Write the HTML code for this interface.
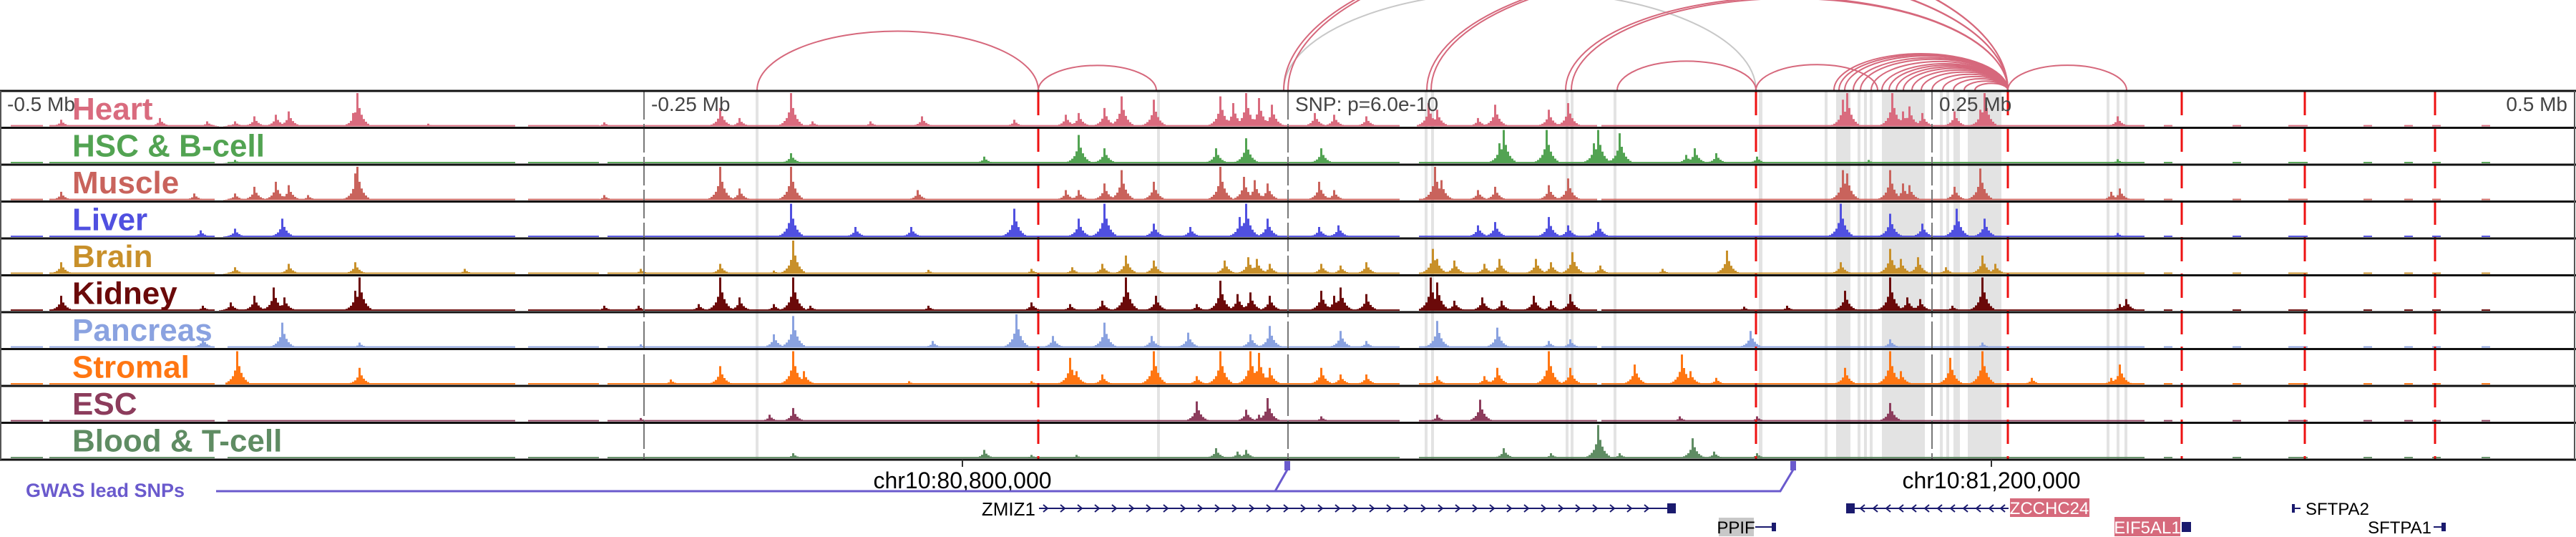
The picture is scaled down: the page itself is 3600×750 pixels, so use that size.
<!DOCTYPE html>
<html><head><meta charset="utf-8">
<style>
html,body{margin:0;padding:0;background:#fff;}
svg{display:block;font-family:"Liberation Sans","DejaVu Sans",sans-serif;}
</style></head>
<body>
<svg id="chart" width="3600" height="750" viewBox="0 0 3600 750" xmlns="http://www.w3.org/2000/svg">
<g id="bands"></g>
<g id="arcs"></g>
<g id="tracks"></g>
<g id="vlines"></g>
<g id="labels"></g>
<g id="bottom"></g>
</svg>
<script>
// ---- data (positions in 278-bp bins across the 1-Mb window, 0..3600) ----
const trackNames = ["Heart","HSC & B-cell","Muscle","Liver","Brain","Kidney","Pancreas","Stromal","ESC","Blood & T-cell"];
const trackColors = ["#d96b7e","#52a352","#c9635c","#5050e0","#c8902a","#6b0a0a","#8aa2e0","#ff7612","#8c3c5c","#5f8c63"];
const heartPeaks = [[83,0.2],[223,0.25],[287,0.15],[327,0.15],[353,0.3],[383,0.35],[402,0.45],[493,0.4],[498,1.0],[597,0.08],[842,0.12],[1005,0.55],[1033,0.25],[1105,1.0],[1134,0.15],[1215,0.15],[1287,0.3],[1416,0.2],[1489,0.35],[1507,0.4],[1541,0.55],[1567,0.9],[1610,0.8],[1704,0.9],[1721,0.7],[1739,1.0],[1758,0.85],[1775,0.65],[1837,0.4],[1864,0.35],[1909,0.3],[1994,0.7],[2007,0.5],[2065,0.25],[2087,0.65],[2163,0.5],[2190,0.7],[2574,0.8],[2579,1.0],[2642,1.0],[2659,0.45],[2668,0.6],[2686,0.4],[2731,0.45],[2766,0.5],[2771,1.0],[2959,0.3]];
const hscPeaks = [[327,0.1],[1105,0.3],[1373,0.2],[1507,0.85],[1541,0.45],[1699,0.45],[1739,0.75],[1846,0.45],[2095,0.6],[2099,1.0],[2161,1.0],[2226,0.6],[2232,1.0],[2262,0.9],[2355,0.25],[2366,0.45],[2396,0.3],[2454,0.2],[2611,0.1],[2957,0.12]];
const musclePeaks = [[83,0.25],[270,0.2],[327,0.2],[354,0.4],[383,0.55],[402,0.45],[428,0.15],[494,0.8],[498,1.0],[842,0.15],[1005,1.0],[1033,0.35],[1105,1.0],[1282,0.3],[1489,0.3],[1507,0.3],[1541,0.5],[1567,0.9],[1612,0.55],[1704,1.0],[1737,0.7],[1753,0.6],[1770,0.5],[1842,0.55],[1864,0.3],[2003,1.0],[2012,0.6],[2065,0.3],[2089,0.4],[2163,0.45],[2191,0.65],[2574,0.9],[2579,0.8],[2641,0.9],[2659,0.5],[2668,0.45],[2731,0.4],[2766,0.95],[2949,0.25],[2960,0.35]];
const liverPeaks = [[278,0.2],[328,0.25],[392,0.55],[1105,1.0],[1194,0.3],[1273,0.3],[1416,0.85],[1507,0.55],[1541,1.0],[1610,0.4],[1663,0.3],[1732,0.6],[1739,1.0],[1770,0.55],[1842,0.3],[1869,0.35],[2065,0.35],[2089,0.45],[2163,0.6],[2190,0.35],[2232,0.45],[2571,1.0],[2641,0.7],[2686,0.4],[2733,0.85],[2771,0.55],[2959,0.12]];
const brainPeaks = [[83,0.35],[327,0.2],[402,0.3],[494,0.35],[649,0.15],[895,0.15],[1005,0.3],[1079,0.1],[1106,1.0],[1297,0.12],[1441,0.15],[1498,0.2],[1538,0.3],[1571,0.55],[1611,0.4],[1711,0.4],[1742,0.5],[1754,0.45],[1774,0.3],[1846,0.3],[1871,0.25],[1907,0.35],[2001,0.75],[2007,0.45],[2030,0.4],[2072,0.3],[2093,0.45],[2144,0.45],[2167,0.35],[2196,0.65],[2234,0.25],[2322,0.15],[2412,0.7],[2571,0.35],[2641,0.75],[2655,0.45],[2678,0.5],[2718,0.2],[2770,0.55],[2787,0.3]];
const kidneyPeaks = [[83,0.45],[281,0.15],[321,0.25],[354,0.45],[382,0.7],[396,0.4],[496,0.6],[501,1.0],[844,0.15],[890,0.15],[976,0.2],[1005,1.0],[1033,0.4],[1079,0.2],[1106,1.0],[1131,0.15],[1297,0.15],[1441,0.25],[1493,0.2],[1538,0.3],[1571,1.0],[1613,0.45],[1671,0.2],[1705,0.9],[1728,0.5],[1745,0.55],[1774,0.45],[1844,0.6],[1863,0.45],[1872,0.7],[1907,0.5],[1997,1.0],[2007,0.85],[2030,0.3],[2070,0.4],[2096,0.3],[2142,0.45],[2167,0.3],[2194,0.5],[2437,0.12],[2495,0.15],[2578,0.6],[2641,1.0],[2663,0.4],[2682,0.35],[2728,0.15],[2770,1.0],[2960,0.2],[2971,0.35]];
const pancreasPeaks = [[281,0.3],[394,0.75],[501,0.15],[895,0.1],[1079,0.4],[1106,0.95],[1303,0.2],[1418,1.0],[1470,0.35],[1541,0.75],[1607,0.35],[1659,0.45],[1745,0.4],[1774,0.65],[1871,0.5],[1907,0.2],[2007,0.8],[2090,0.6],[2162,0.2],[2193,0.25],[2445,0.5],[2641,0.25],[2770,0.15]];
const stromalPeaks = [[330,1.0],[501,0.5],[936,0.15],[1005,0.55],[1106,1.0],[1123,0.4],[1269,0.1],[1441,0.1],[1493,0.8],[1504,0.4],[1538,0.3],[1611,1.0],[1671,0.25],[1705,1.0],[1745,1.0],[1757,0.95],[1774,0.5],[1846,0.5],[1871,0.3],[1907,0.3],[2007,0.25],[2073,0.25],[2090,0.5],[2164,1.0],[2194,0.5],[2282,0.6],[2348,0.9],[2360,0.4],[2397,0.2],[2578,0.5],[2641,1.0],[2655,0.4],[2724,0.8],[2770,1.0],[2839,0.2],[2948,0.2],[2960,0.6]];
const escPeaks = [[895,0.1],[1073,0.2],[1106,0.4],[1671,0.6],[1739,0.35],[1757,0.2],[1771,0.7],[1846,0.15],[2007,0.2],[2067,0.65],[2346,0.15],[2454,0.15],[2641,0.55]];
const bloodPeaks = [[1106,0.15],[1375,0.25],[1441,0.1],[1504,0.1],[1697,0.3],[1728,0.2],[1739,0.25],[2099,0.3],[2165,0.15],[2232,1.0],[2262,0.15],[2365,0.6],[2395,0.2],[2454,0.15]];
const allPeaks = [heartPeaks,hscPeaks,musclePeaks,liverPeaks,brainPeaks,kidneyPeaks,pancreasPeaks,stromalPeaks,escPeaks,bloodPeaks];
const coverage = [[15,60],[70,300],[320,720],[740,835],[850,1955],[1985,2230],[2240,2995],[3025,3035],[3120,3130],[3200,3225],[3305,3315],[3360,3372],[3400,3410],[3470,3478]];
const grayBands = [[1056,1060],[1617,1621],[1991,1995],[2000,2004],[2188,2192],[2195,2199],[2255,2259],[2458,2463],[2550,2554],[2566,2586],[2596,2600],[2605,2609],[2613,2617],[2630,2690],[2711,2715],[2720,2724],[2730,2739],[2750,2797],[2944,2948],[2958,2962],[2969,2973]];
const axisTicks = [0,900,1800,2700,3600];
const axisTickLabels = ["-0.5 Mb","-0.25 Mb","SNP: p=6.0e-10","0.25 Mb","0.5 Mb"];
const redMarkers = [1451,2454,2806,3049,3221,3403];
const arcAnchors = [[1058,1451],[1451,1616],[1794,2454],[1794,2806],[1800,2806],[1994,2806],[2000,2806],[2188,2806],[2196,2806],[2260,2454],[2454,2624],[2563,2806],[2570,2806],[2578,2806],[2590,2806],[2600,2806],[2615,2806],[2630,2806],[2640,2806],[2650,2806],[2660,2806],[2672,2806],[2685,2806],[2700,2806],[2715,2806],[2730,2806],[2745,2806],[2760,2806],[2806,2972]];
const arcGray = [2];
const coordTicks = [1345,2783];
const coordLabels = ["chr10:80,800,000","chr10:81,200,000"];

// ---- scales ----
const W = 3600, TOP = 127, TH = 51.5;
const x = b => b * W / 3600;
const trackTop = i => TOP + i * TH;
const yVal = (i, v) => trackTop(i) + TH - 2 - v * (TH - 5);
const NS = "http://www.w3.org/2000/svg";
function mk(tag, attrs, parent){ const e=document.createElementNS(NS,tag); for(const k in attrs) e.setAttribute(k,attrs[k]); parent.appendChild(e); return e; }

// bands
const gB = document.getElementById('bands');
grayBands.forEach(b=>{
  const r = mk('rect',{x:x(b[0]),y:TOP,width:x(b[1])-x(b[0]),height:TH*10,fill:'#e3e3e3'},gB);
  
  
});

// arcs
const gA = document.getElementById('arcs');
arcAnchors.forEach((a,i)=>{
  const x1=x(a[0]), x2=x(a[1]); const rx=(x2-x1)/2; const ry=rx*0.42;
  const p = mk('path',{d:`M${x1},${TOP-1} A${rx},${ry} 0 0 1 ${x2},${TOP-1}`,fill:'none',stroke:arcGray.includes(i)?'#c8c8c8':'#d6687c','stroke-width':2},gA);
  
  
});

// tracks
const gT = document.getElementById('tracks');
const kernel=[0.06,0.1,0.16,0.25,0.42,1,0.55,0.35,0.22,0.14,0.08];
const KH=5;
const BIN=3;
allPeaks.forEach((peaks,i)=>{
  const g = mk('g',{fill:trackColors[i]},gT);
  
  
  const vals = new Float32Array(Math.ceil(3600/BIN));
  coverage.forEach(c=>{ for(let b=Math.floor(c[0]/BIN);b<Math.ceil(c[1]/BIN);b++) vals[b]=Math.max(vals[b],0.04); });
  peaks.forEach(p=>{ const c=Math.round(p[0]/BIN); kernel.forEach((k,j)=>{const b=c+j-KH; if(b>=0&&b<vals.length) vals[b]=Math.max(vals[b],p[1]*k);}); });
  let d='';
  for(let b=0;b<vals.length;b++){ if(vals[b]>0){ const y0=yVal(i,vals[b]); const yb=yVal(i,0); d+=`M${x(b*BIN)},${yb}V${y0}H${x(b*BIN)+BIN}V${yb}Z`; } }
  const p=mk('path',{d:d},g);
  
  
});

// vertical markers + borders
const gV = document.getElementById('vlines');
[900,1800,2700].forEach(t=>{
  const l=mk('line',{x1:x(t),x2:x(t),y1:TOP,y2:TOP+TH*10,stroke:'#777','stroke-width':2,'stroke-dasharray':'40 6'},gV);
  
  
});
redMarkers.forEach(t=>{
  const l=mk('line',{x1:x(t),x2:x(t),y1:TOP,y2:TOP+TH*10,stroke:'#ee1111','stroke-width':3,'stroke-dasharray':'34 17'},gV);
  
  
});
for(let i=0;i<=10;i++){
  const l=mk('line',{x1:0,x2:W,y1:trackTop(i),y2:trackTop(i),stroke:'#111','stroke-width':3},gV);
  
  
}
const lb=mk('line',{x1:1,x2:1,y1:TOP,y2:TOP+TH*10,stroke:'#555','stroke-width':2},gV);


const rb=mk('line',{x1:W-2,x2:W-2,y1:TOP,y2:TOP+TH*10,stroke:'#555','stroke-width':2},gV);



// labels
const gL = document.getElementById('labels');
trackNames.forEach((n,i)=>{
  const t=mk('text',{x:101,y:trackTop(i)+40,fill:trackColors[i],'font-size':44,'font-weight':'bold'},gL);
  t.textContent=n;
  
  
});
axisTicks.forEach((t,i)=>{
  const last=i===axisTicks.length-1;
  const tx=mk('text',{x:last?x(t)-12:x(t)+10,y:TOP+28,fill:'#444','font-size':28,'text-anchor':last?'end':'start'},gL);
  tx.textContent=axisTickLabels[i];
  
  
});

// bottom area
const gO = document.getElementById('bottom');
const yAx = TOP+TH*10;
coordTicks.forEach((t,i)=>{
  const l=mk('line',{x1:x(t),x2:x(t),y1:yAx,y2:yAx+10,stroke:'#333','stroke-width':2},gO);
  
  
  const tx=mk('text',{x:x(t),y:yAx+40,'font-size':32,'text-anchor':'middle',fill:'#000'},gO);
  tx.textContent=coordLabels[i];
  
  
});
</script>
<svg style="position:absolute;left:0;top:0" width="3600" height="750">
<g font-family="Liberation Sans, DejaVu Sans, sans-serif">
<text x="36" y="694" font-size="27" font-weight="bold" fill="#6a5acd">GWAS lead SNPs</text>
<polyline points="302,686 1782,686 1799,656" fill="none" stroke="#6a5acd" stroke-width="3"/>
<polyline points="1782,686 2488,686 2506,656" fill="none" stroke="#6a5acd" stroke-width="3"/>
<rect x="1795" y="644" width="8" height="13" fill="#6a5acd"/>
<rect x="2502" y="644" width="8" height="13" fill="#6a5acd"/>

<text x="1447" y="720" font-size="26" text-anchor="end" fill="#000">ZMIZ1</text>
<g stroke="#1a1a6e" fill="none" stroke-width="2">
<line x1="1452" y1="710" x2="2336" y2="710"/>
<path d="M1458,705l6,5l-6,5M1482,705l6,5l-6,5M1506,705l6,5l-6,5M1530,705l6,5l-6,5M1554,705l6,5l-6,5M1578,705l6,5l-6,5M1602,705l6,5l-6,5M1626,705l6,5l-6,5M1650,705l6,5l-6,5M1674,705l6,5l-6,5M1698,705l6,5l-6,5M1722,705l6,5l-6,5M1746,705l6,5l-6,5M1770,705l6,5l-6,5M1794,705l6,5l-6,5M1818,705l6,5l-6,5M1842,705l6,5l-6,5M1866,705l6,5l-6,5M1890,705l6,5l-6,5M1914,705l6,5l-6,5M1938,705l6,5l-6,5M1962,705l6,5l-6,5M1986,705l6,5l-6,5M2010,705l6,5l-6,5M2034,705l6,5l-6,5M2058,705l6,5l-6,5M2082,705l6,5l-6,5M2106,705l6,5l-6,5M2130,705l6,5l-6,5M2154,705l6,5l-6,5M2178,705l6,5l-6,5M2202,705l6,5l-6,5M2226,705l6,5l-6,5M2250,705l6,5l-6,5M2274,705l6,5l-6,5M2298,705l6,5l-6,5"/>
</g>
<rect x="2330" y="703" width="12" height="14" fill="#1a1a6e"/>

<rect x="2402" y="723" width="49" height="26" fill="#c8c8c8"/>
<text x="2426" y="745" font-size="24" text-anchor="middle" fill="#000">PPIF</text>
<line x1="2453" y1="736" x2="2481" y2="736" stroke="#1a1a6e" stroke-width="2"/>
<rect x="2476" y="730" width="6" height="12" fill="#1a1a6e"/>

<rect x="2580" y="703" width="12" height="14" fill="#1a1a6e"/>
<g stroke="#1a1a6e" fill="none" stroke-width="2">
<line x1="2590" y1="710" x2="2807" y2="710"/>
<path d="M2606,705l-6,5l6,5M2624,705l-6,5l6,5M2642,705l-6,5l6,5M2660,705l-6,5l6,5M2678,705l-6,5l6,5M2696,705l-6,5l6,5M2714,705l-6,5l6,5M2732,705l-6,5l6,5M2750,705l-6,5l6,5M2768,705l-6,5l6,5M2786,705l-6,5l6,5M2802,705l-6,5l6,5"/>
</g>
<rect x="2809" y="696" width="111" height="26" fill="#d66a7c"/>
<text x="2864" y="718" font-size="24" text-anchor="middle" fill="#fff">ZCCHC24</text>

<rect x="2955" y="722" width="92" height="27" fill="#d66a7c"/>
<text x="3001" y="745" font-size="24" text-anchor="middle" fill="#fff">EIF5AL1</text>
<rect x="3049" y="729" width="13" height="14" fill="#1a1a6e"/>

<line x1="3203" y1="710" x2="3215" y2="710" stroke="#1a1a6e" stroke-width="2"/>
<rect x="3203" y="704" width="4" height="12" fill="#1a1a6e"/>
<text x="3222" y="719" font-size="24" fill="#000">SFTPA2</text>

<text x="3398" y="745" font-size="24" text-anchor="end" fill="#000">SFTPA1</text>
<line x1="3401" y1="736" x2="3418" y2="736" stroke="#1a1a6e" stroke-width="2"/>
<rect x="3412" y="730" width="6" height="12" fill="#1a1a6e"/>
</g>
</svg>
</body></html>
